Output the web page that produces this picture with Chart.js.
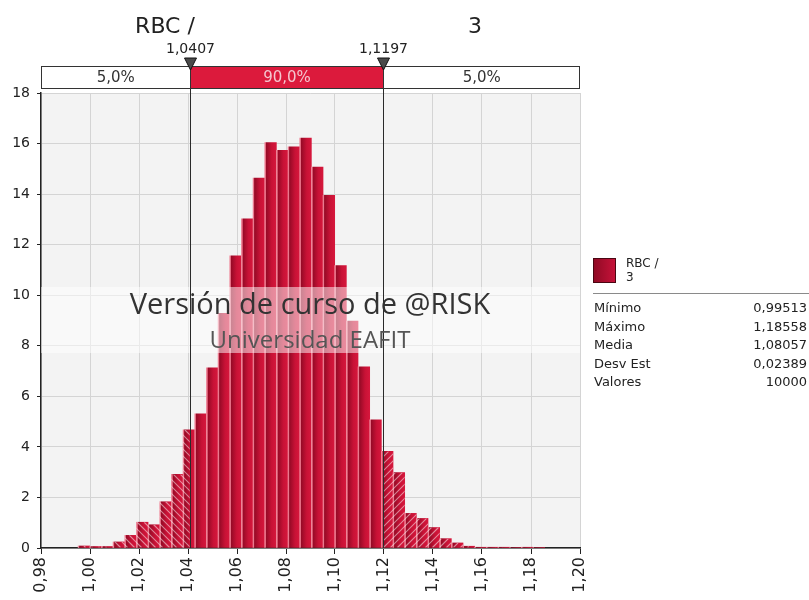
<!DOCTYPE html>
<html>
<head>
<meta charset="utf-8">
<script src="https://cdn.jsdelivr.net/npm/chart.js@4"></script>
<style>
  html, body { margin: 0; padding: 0; background: #fff; }
</style>
</head>
<body>
<canvas id="chart" width="809" height="600"></canvas>
<script>
// simulation output (density per bin, 40 bins between min and max)
const minVal = 0.99513;
const maxVal = 1.18558;
const density = [0.08, 0.06, 0.06, 0.24, 0.50, 1.02, 0.92, 1.83, 2.91, 4.67,
                 5.31, 7.13, 9.28, 11.56, 13.02, 14.63, 16.04, 15.73, 15.87, 16.22,
                 15.07, 13.95, 11.17, 8.98, 7.17, 5.07, 3.82, 2.98, 1.37, 1.17,
                 0.81, 0.37, 0.20, 0.07, 0.03, 0.03, 0.03, 0.02, 0.03, 0.02];
const delimiters = [1.0407, 1.1197];
const delimLabels = ['1,0407', '1,1197'];
const bandLabels = ['5,0%', '90,0%', '5,0%'];
const titleParts = ['RBC /', '3'];
const statNames = ['Mínimo', 'Máximo', 'Media', 'Desv Est', 'Valores'];
const statValues = ['0,99513', '1,18558', '1,08057', '0,02389', '10000'];

const binW = (maxVal - minVal) / density.length;
let centers = density.map((d, i) => minVal + (i + 0.5) * binW);
let points = density.map((d, i) => ({ x: centers[i], y: d }));

const FONT = '"DejaVu Sans", "Liberation Sans", sans-serif';

function barFill(c) {
    let chart = c.chart;
    let xs = chart.scales && chart.scales.x;
    if (!xs || c.type !== 'data') return '#c20f31';
    let mid = centers[c.dataIndex];
    let x0 = xs.getPixelForValue(mid - binW / 2);
    let x1 = xs.getPixelForValue(mid + binW / 2);
    if (!isFinite(x0) || !isFinite(x1) || x1 - x0 < 1) return '#c20f31';
    let g = chart.ctx.createLinearGradient(x0, 0, x1, 0);
    g.addColorStop(0, '#ef8a9c');
    g.addColorStop(0.09, '#e2647c');
    g.addColorStop(0.13, '#960a26');
    g.addColorStop(0.6, '#c81236');
    g.addColorStop(1, '#d6173c');
    return g;
}

let riskPlugin = {
    id: 'risk',
    beforeDraw(chart) {
        let ctx = chart.ctx, a = chart.chartArea;
        ctx.save();
        ctx.fillStyle = '#f3f3f3';
        ctx.fillRect(a.left, a.top, a.right - a.left, a.bottom - a.top);
        ctx.restore();
    },
    afterDatasetsDraw(chart) {
        let ctx = chart.ctx, a = chart.chartArea;
        let xs = chart.scales.x;
        let pl = xs.getPixelForValue(delimiters[0]);
        let pr = xs.getPixelForValue(delimiters[1]);
        let meta = chart.getDatasetMeta(0);

        // hatch the two tails
        meta.data.forEach(bar => {
            let p = bar.getProps(['x', 'y', 'base', 'width'], true);
            let l = p.x - p.width / 2, r = p.x + p.width / 2;
            let parts = [[l, Math.min(r, pl), -1], [Math.max(l, pr), r, 1]];
            parts.forEach(([x0, x1, dir]) => {
                if (x1 - x0 <= 0.2 || p.base - p.y <= 0) return;
                ctx.save();
                ctx.beginPath();
                ctx.rect(x0, p.y, x1 - x0, p.base - p.y);
                ctx.clip();
                ctx.strokeStyle = 'rgba(255,255,255,0.5)';
                ctx.lineWidth = 1.2;
                ctx.beginPath();
                let top = p.y, bot = p.base;
                if (dir < 0) {
                    for (let k = Math.floor((x0 - bot) / 7) * 7; k < x1 - top + 7; k += 7) {
                        ctx.moveTo(k + top, top);
                        ctx.lineTo(k + bot, bot);
                    }
                } else {
                    for (let k = Math.floor((x0 + top) / 7) * 7; k < x1 + bot + 7; k += 7) {
                        ctx.moveTo(k - bot, bot);
                        ctx.lineTo(k - top, top);
                    }
                }
                ctx.stroke();
                ctx.restore();
            });
        });

        // watermark band
        ctx.save();
        ctx.fillStyle = 'rgba(255,255,255,0.5)';
        ctx.fillRect(a.left, 287, a.right - a.left, 66);
        ctx.restore();

        // delimiter lines
        ctx.save();
        ctx.strokeStyle = '#2a2a2a';
        ctx.lineWidth = 1;
        [pl, pr].forEach(px => {
            ctx.beginPath();
            ctx.moveTo(Math.round(px) + 0.5, 66);
            ctx.lineTo(Math.round(px) + 0.5, a.bottom);
            ctx.stroke();
        });
        ctx.restore();

        // watermark text
        ctx.save();
        ctx.textAlign = 'center';
        ctx.textBaseline = 'alphabetic';
        ctx.fillStyle = '#333';
        ctx.font = '29px "Open Sans", sans-serif';
        ctx.fillText('Versión de curso de @RISK', 310, 314);
        ctx.fillStyle = '#555';
        ctx.font = '24px "Open Sans", sans-serif';
        ctx.fillText('Universidad EAFIT', 310, 348);
        ctx.restore();
    },
    afterDraw(chart) {
        let ctx = chart.ctx, a = chart.chartArea;
        let xs = chart.scales.x;
        let pl = Math.round(xs.getPixelForValue(delimiters[0])) + 0.5;
        let pr = Math.round(xs.getPixelForValue(delimiters[1])) + 0.5;
        ctx.save();

        // title
        ctx.fillStyle = '#222';
        ctx.font = '22px ' + FONT;
        ctx.textAlign = 'center';
        ctx.textBaseline = 'alphabetic';
        ctx.fillText(titleParts[0], 165, 33);
        ctx.fillText(titleParts[1], 475, 33);

        // delimiter band
        let bt = 66, bh = 22;
        ctx.fillStyle = '#fff';
        ctx.fillRect(a.left, bt, a.right - a.left, bh);
        ctx.fillStyle = '#dc1a3c';
        ctx.fillRect(pl, bt, pr - pl, bh);
        ctx.strokeStyle = '#333';
        ctx.lineWidth = 1;
        ctx.strokeRect(a.left + 0.5, bt + 0.5, a.right - a.left - 1, bh);
        ctx.beginPath();
        ctx.moveTo(pl, bt); ctx.lineTo(pl, bt + bh);
        ctx.moveTo(pr, bt); ctx.lineTo(pr, bt + bh);
        ctx.stroke();

        ctx.font = '15px ' + FONT;
        ctx.textBaseline = 'middle';
        ctx.fillStyle = '#333';
        ctx.fillText(bandLabels[0], (a.left + pl) / 2, bt + bh / 2 + 1);
        ctx.fillStyle = '#f4c6cf';
        ctx.fillText(bandLabels[1], (pl + pr) / 2, bt + bh / 2 + 1);
        ctx.fillStyle = '#333';
        ctx.fillText(bandLabels[2], (pr + a.right) / 2, bt + bh / 2 + 1);

        // markers and values
        ctx.font = '14px ' + FONT;
        ctx.textBaseline = 'alphabetic';
        [pl, pr].forEach((px, i) => {
            ctx.fillStyle = '#222';
            ctx.fillText(delimLabels[i], px, 53);
            ctx.beginPath();
            ctx.moveTo(px - 6, 58);
            ctx.lineTo(px + 6, 58);
            ctx.lineTo(px, 70);
            ctx.closePath();
            ctx.fillStyle = '#4a4a4a';
            ctx.fill();
            ctx.strokeStyle = '#111';
            ctx.stroke();
        });

        // legend
        let g = ctx.createLinearGradient(593, 0, 616, 0);
        g.addColorStop(0, '#8e0a24');
        g.addColorStop(1, '#c8123a');
        ctx.fillStyle = g;
        ctx.fillRect(593, 258, 23, 25);
        ctx.strokeStyle = '#4a0612';
        ctx.strokeRect(593.5, 258.5, 22, 24);
        ctx.fillStyle = '#222';
        ctx.textAlign = 'left';
        ctx.font = '12px ' + FONT;
        ctx.fillText('RBC /', 626, 267);
        ctx.fillText('3', 626, 281);

        ctx.strokeStyle = '#8a8a8a';
        ctx.beginPath();
        ctx.moveTo(593, 293.5);
        ctx.lineTo(809, 293.5);
        ctx.stroke();

        ctx.font = '13px ' + FONT;
        statNames.forEach((name, i) => {
            let y = 312 + i * 18.6;
            ctx.textAlign = 'left';
            ctx.fillText(name, 594, y);
            ctx.textAlign = 'right';
            ctx.fillText(statValues[i], 807, y);
        });
        ctx.restore();
    }
};

let chart = new Chart(document.querySelector('#chart'), {
    type: 'bar',
    data: {
        datasets: [{
            label: 'RBC / 3',
            data: points,
            backgroundColor: barFill,
            borderWidth: 0,
            barPercentage: 1,
            categoryPercentage: 1
        }]
    },
    options: {
        responsive: false,
        animation: false,
        layout: { padding: { top: 93, right: 229, left: 0, bottom: 0 } },
        plugins: {
            legend: { display: false },
            tooltip: { enabled: false }
        },
        scales: {
            x: {
                type: 'linear',
                min: 0.98,
                max: 1.2,
                offset: false,
                afterFit: s => { s.height = 52; },
                ticks: {
                    stepSize: 0.02,
                    autoSkip: false,
                    minRotation: 90,
                    maxRotation: 90,
                    padding: 3,
                    color: '#222',
                    font: { family: FONT, size: 16 },
                    callback: v => v.toFixed(2).replace('.', ',')
                },
                grid: { offset: false, color: '#d4d4d4', tickColor: '#222', tickLength: 6 },
                border: { color: '#222', width: 1.5 }
            },
            y: {
                min: 0,
                max: 18,
                afterFit: s => { s.width = 41; },
                ticks: {
                    stepSize: 2,
                    padding: 7,
                    color: '#222',
                    font: { family: FONT, size: 14 }
                },
                grid: { color: '#d4d4d4', tickColor: '#222', tickLength: 4 },
                border: { color: '#222', width: 1.5 }
            }
        }
    },
    plugins: [riskPlugin]
});
</script>
</body>
</html>
